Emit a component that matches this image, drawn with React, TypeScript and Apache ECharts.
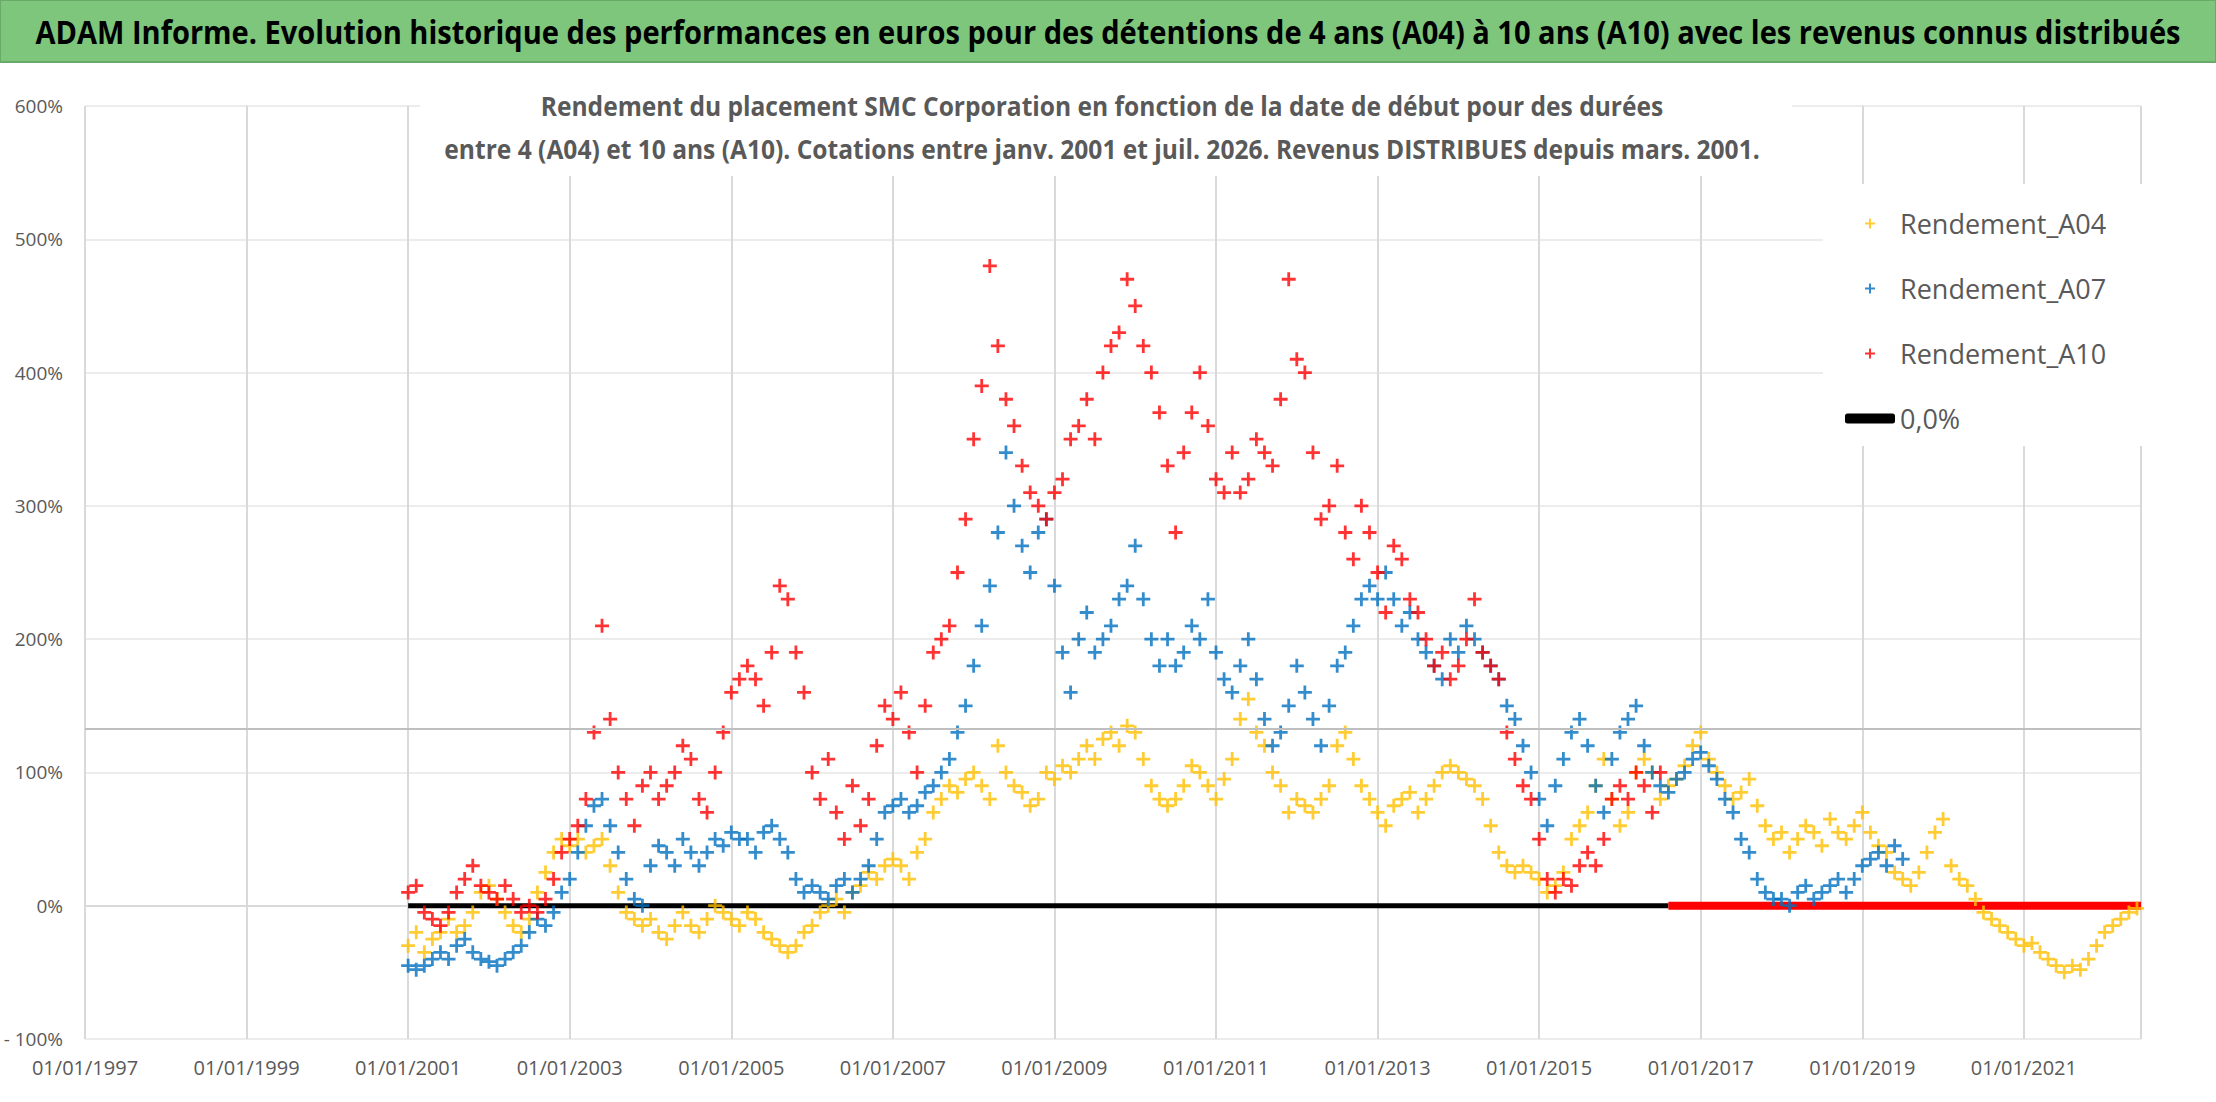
import { useEffect, useRef } from 'react';
import * as echarts from 'echarts';

// échantillons tous les 0,1 an à partir de 01/01/2001
const START = 2001;
const STEP = 0.1;

const rendementA04 = [
  -30, -20, -35, -25, -20, -10, -20, -15, -5, 10,
  15, 5, -5, -15, -20, -10, 10, 25, 40, 50,
  45, 50, 40, 45, 50, 30, 10, -5, -10, -15,
  -10, -20, -25, -15, -5, -15, -20, -10, 0, -5,
  -10, -15, -5, -10, -20, -25, -30, -35, -30, -20,
  -15, -5, 0, 5, -5, 10, 15, 25, 20, 30,
  35, 30, 20, 40, 50, 70, 80, 90, 85, 95,
  100, 90, 80, 120, 100, 90, 85, 75, 80, 100,
  95, 105, 100, 110, 120, 110, 125, 130, 120, 135,
  130, 110, 90, 80, 75, 80, 90, 105, 100, 90,
  80, 95, 110, 140, 155, 130, 120, 100, 90, 70,
  80, 75, 70, 80, 90, 120, 130, 110, 90, 80,
  70, 60, 75, 80, 85, 70, 80, 90, 100, 105,
  100, 95, 90, 80, 60, 40, 30, 25, 30, 25,
  20, 10, 15, 25, 50, 60, 70, 90, 110, 80,
  60, 70, 100, 110, 100, 80, 90, 95, 105, 120,
  130, 110, 100, 90, 80, 85, 95, 75, 60, 50,
  55, 40, 50, 60, 55, 45, 65, 55, 50, 60,
  70, 55, 45, 40, 25, 20, 15, 25, 40, 55,
  65, 30, 20, 15, 5, -5, -10, -15, -20, -25,
  -30, -28, -35, -40, -45, -50, -45, -48, -40, -30,
  -20, -15, -10, -5, -2,
];

const rendementA07 = [
  -45, -48, -45, -40, -35, -40, -30, -25, -35, -40,
  -42, -45, -40, -35, -30, -20, -10, -15, -5, 10,
  20, 40, 60, 75, 80, 60, 40, 20, 5, 0,
  30, 45, 40, 30, 50, 40, 30, 40, 50, 45,
  55, 50, 50, 40, 55, 60, 50, 40, 20, 10,
  15, 10, 5, 15, 20, 10, 20, 30, 50, 70,
  75, 80, 70, 75, 85, 90, 100, 110, 130, 150,
  180, 210, 240, 280, 340, 300, 270, 250, 280, 290,
  240, 190, 160, 200, 220, 190, 200, 210, 230, 240,
  270, 230, 200, 180, 200, 180, 190, 210, 200, 230,
  190, 170, 160, 180, 200, 170, 140, 120, 130, 150,
  180, 160, 140, 120, 150, 180, 190, 210, 230, 240,
  230, 250, 230, 210, 220, 200, 190, 180, 170, 200,
  190, 210, 200, 190, 180, 170, 150, 140, 120, 100,
  80, 60, 90, 110, 130, 140, 120, 90, 70, 110,
  130, 140, 150, 120, 100, 90, 85, 95, 100, 110,
  115, 105, 95, 80, 70, 50, 40, 20, 10, 5,
  5, 0, 10, 15, 5, 10, 15, 20, 10, 20,
  30, 35, 40, 30, 45, 35,
];

const rendementA10 = [
  10, 15, -5, -10, -15, -5, 10, 20, 30, 15,
  10, 5, 15, 5, -5, 0, -5, 5, 20, 40,
  50, 60, 80, 130, 210, 140, 100, 80, 60, 90,
  100, 80, 90, 100, 120, 110, 80, 70, 100, 130,
  160, 170, 180, 170, 150, 190, 240, 230, 190, 160,
  100, 80, 110, 70, 50, 90, 60, 80, 120, 150,
  140, 160, 130, 100, 150, 190, 200, 210, 250, 290,
  350, 390, 480, 420, 380, 360, 330, 310, 300, 290,
  310, 320, 350, 360, 380, 350, 400, 420, 430, 470,
  450, 420, 400, 370, 330, 280, 340, 370, 400, 360,
  320, 310, 340, 310, 320, 350, 340, 330, 380, 470,
  410, 400, 340, 290, 300, 330, 280, 260, 300, 280,
  250, 220, 270, 260, 230, 220, 200, 180, 190, 170,
  180, 200, 230, 190, 180, 170, 130, 110, 90, 80,
  50, 20, 10, 20, 15, 30, 40, 30, 50, 80,
  90, 80, 100, 90, 70, 100,
];

// A10 nul après mi-2016 (durée pas encore atteinte)
const zeroA10 = [[2016.6, 0], [2022.45, 0]];
const ligneZero = [[2001.0, 0], [2016.6, 0]];
const ligneGrise = 133;

const FONT = '"Open Sans", "Noto Sans", sans-serif';
const PLUS = 'path://M4,0H6V4H10V6H6V10H4V6H0V4H4Z';

const toPoints = (vals: number[]) =>
  vals.map((v, i) => [+(START + i * STEP).toFixed(2), v]);

export default function App() {
  const chartRef = useRef<HTMLDivElement>(null);

  useEffect(() => {
    document.body.style.margin = '0';
    if (!chartRef.current) return;
    const chart = echarts.init(chartRef.current, undefined, { renderer: 'svg' });

    const scatter = (name: string, data: number[][], color: string, size: number) => ({
      name,
      type: 'scatter',
      data,
      symbol: PLUS,
      symbolSize: size,
      itemStyle: { color },
    });

    const option: any = {
      animation: false,
      backgroundColor: '#ffffff',
      graphic: [
        {
          type: 'rect',
          shape: { x: 0, y: 0, width: 2216, height: 62 },
          style: { fill: '#7dc67b', stroke: '#6aaa68', lineWidth: 2 },
        },
        {
          type: 'text',
          x: 1108,
          y: 31,
          scaleX: 0.88,
          style: {
            text: 'ADAM Informe. Evolution historique des performances en euros pour des détentions de 4 ans (A04) à 10 ans (A10) avec les revenus connus distribués',
            fill: '#000',
            font: `bold 33px ${FONT}`,
            align: 'center',
            verticalAlign: 'middle',
          },
        },
        {
          type: 'rect',
          shape: { x: 420, y: 80, width: 1372, height: 96 },
          style: { fill: '#fff' },
          z: 10,
        },
        {
          type: 'text',
          x: 1102,
          y: 106,
          z: 11,
          scaleX: 0.91,
          style: {
            text: 'Rendement du placement SMC Corporation en fonction de la date de début pour des durées',
            fill: '#595959',
            font: `bold 27px ${FONT}`,
            align: 'center',
            verticalAlign: 'middle',
          },
        },
        {
          type: 'text',
          x: 1102,
          y: 149,
          z: 11,
          scaleX: 0.91,
          style: {
            text: 'entre 4 (A04) et 10 ans (A10). Cotations entre janv. 2001 et juil. 2026. Revenus DISTRIBUES depuis mars. 2001.',
            fill: '#595959',
            font: `bold 27px ${FONT}`,
            align: 'center',
            verticalAlign: 'middle',
          },
        },
        {
          type: 'rect',
          shape: { x: 1823, y: 184, width: 325, height: 262 },
          style: { fill: '#fff' },
          z: 10,
        },
      ],
      legend: {
        orient: 'vertical',
        left: 1840,
        top: 205,
        itemGap: 38,
        itemWidth: 50,
        itemHeight: 10,
        z: 12,
        textStyle: { fontFamily: FONT, fontSize: 27, color: '#595959' },
        data: [
          { name: 'Rendement_A04', itemStyle: { color: '#ffc000' } },
          { name: 'Rendement_A07', itemStyle: { color: '#0070c0' } },
          { name: 'Rendement_A10', itemStyle: { color: '#ff0000' } },
          { name: '0,0%', icon: 'roundRect', itemStyle: { color: '#000' } },
        ],
      },
      grid: { left: 85, right: 75, top: 106, bottom: 63 },
      xAxis: {
        type: 'value',
        min: 1997,
        max: 2022.45,
        interval: 2,
        axisLine: { show: true, lineStyle: { color: '#d9d9d9', width: 2 } },
        axisTick: { show: false },
        splitLine: { show: true, lineStyle: { color: '#d9d9d9', width: 2 } },
        axisLabel: {
          showMaxLabel: false,
          margin: 18,
          fontFamily: FONT,
          fontSize: 20,
          color: '#595959',
          formatter: (v: number) => `01/01/${v}`,
        },
      },
      yAxis: {
        type: 'value',
        min: -100,
        max: 600,
        interval: 100,
        axisLine: { show: false },
        axisTick: { show: false },
        splitLine: { show: true, lineStyle: { color: '#e6e6e6', width: 1.5 } },
        axisLabel: {
          fontFamily: FONT,
          fontSize: 19,
          color: '#595959',
          margin: 22,
          formatter: (v: number) => (v < 0 ? `- ${-v}%` : `${v}%`),
        },
      },
      series: [
        {
          name: '0,0%',
          type: 'line',
          data: ligneZero,
          symbol: 'none',
          z: 1,
          lineStyle: { color: '#000', width: 5 },
          itemStyle: { color: '#000' },
          markLine: {
            silent: true,
            symbol: 'none',
            label: { show: false },
            lineStyle: { color: '#bfbfbf', width: 2, type: 'solid' },
            data: [{ yAxis: ligneGrise }],
          },
        },
        {
          name: 'zeroA10',
          type: 'line',
          data: zeroA10,
          symbol: 'none',
          z: 1,
          lineStyle: { color: '#ff0000', width: 8 },
        },
        scatter('Rendement_A04', toPoints(rendementA04), '#ffc000', 14),
        scatter('Rendement_A07', toPoints(rendementA07), '#0070c0', 14),
        scatter('Rendement_A10', toPoints(rendementA10), '#ff0000', 14),
      ],
    };

    chart.setOption(option);
    return () => chart.dispose();
  }, []);

  return <div ref={chartRef} style={{ width: 2216, height: 1102 }} />;
}
